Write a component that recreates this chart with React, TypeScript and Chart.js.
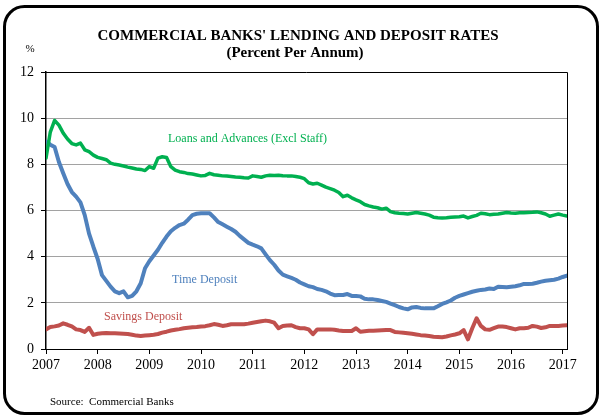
import React, { useEffect, useRef } from "react";
import { Chart, registerables } from "chart.js";

Chart.register(...registerables);

const START_YEAR = 2007;
const yearTicks = [2007, 2008, 2009, 2010, 2011, 2012, 2013, 2014, 2015, 2016, 2017];
const yTicks = [0, 2, 4, 6, 8, 10, 12];

// Monthly, Jan 2007 .. Feb 2017
const loansAdvances = [
  8.27, 9.4, 9.9, 9.7, 9.35, 9.1, 8.9, 8.84, 8.92, 8.63, 8.55, 8.4,
  8.3, 8.25, 8.2, 8.05, 8.0, 7.97, 7.93, 7.88, 7.84, 7.8, 7.78, 7.73,
  7.9, 7.83, 8.27, 8.33, 8.3, 7.9, 7.75, 7.68, 7.65, 7.6, 7.58, 7.54,
  7.5, 7.52, 7.61, 7.55, 7.53, 7.5, 7.49, 7.47, 7.45, 7.44, 7.42, 7.41,
  7.5, 7.47, 7.44, 7.5, 7.53, 7.52, 7.53, 7.51, 7.5, 7.5, 7.47, 7.44,
  7.38, 7.2, 7.15, 7.18, 7.1, 7.01, 6.95, 6.88, 6.78, 6.6, 6.66, 6.55,
  6.46, 6.38, 6.26, 6.2, 6.15, 6.12, 6.06, 6.1, 5.95, 5.9, 5.88, 5.87,
  5.85, 5.88, 5.91, 5.88, 5.85, 5.8, 5.71, 5.69, 5.68, 5.69, 5.71, 5.72,
  5.73, 5.76, 5.68, 5.74, 5.79, 5.88, 5.86, 5.82, 5.84, 5.85, 5.88, 5.91,
  5.89, 5.88, 5.9, 5.9, 5.91, 5.92, 5.94, 5.9, 5.85, 5.75, 5.8, 5.85,
  5.8, 5.76,
];

const timeDeposit = [
  8.99, 8.85, 8.75, 8.1, 7.61, 7.15, 6.8, 6.6, 6.35, 5.8, 5.0, 4.43,
  3.9, 3.2, 2.95, 2.7, 2.5, 2.42, 2.5, 2.24, 2.3, 2.5, 2.85, 3.5,
  3.8, 4.05, 4.3, 4.6, 4.87, 5.1, 5.25, 5.37, 5.43, 5.6, 5.8, 5.86,
  5.88, 5.88, 5.88, 5.7, 5.5, 5.4, 5.3, 5.2, 5.08, 4.9, 4.75, 4.6,
  4.52, 4.45, 4.36, 4.1, 3.85, 3.65, 3.4, 3.22, 3.15, 3.08, 3.0, 2.88,
  2.8, 2.72, 2.68, 2.6, 2.56, 2.5, 2.4, 2.33, 2.34, 2.34, 2.38, 2.3,
  2.3, 2.28, 2.18, 2.15, 2.15, 2.12, 2.08, 2.04, 1.97, 1.9, 1.82, 1.76,
  1.72, 1.8, 1.82, 1.78, 1.76, 1.76, 1.76, 1.85, 1.95, 2.02, 2.1, 2.22,
  2.3, 2.36, 2.42, 2.48, 2.52, 2.56, 2.58, 2.62, 2.6, 2.7, 2.69, 2.68,
  2.7, 2.72, 2.76, 2.82, 2.82, 2.83, 2.87, 2.92, 2.96, 2.98, 3.0, 3.05,
  3.12, 3.18,
];

const savingsDeposit = [
  0.85, 0.95, 0.98, 1.02, 1.11, 1.05, 0.98, 0.85, 0.82, 0.74, 0.92, 0.61,
  0.66, 0.68, 0.69, 0.68, 0.68, 0.67, 0.66, 0.65, 0.62, 0.58, 0.56, 0.58,
  0.6, 0.62, 0.65, 0.71, 0.75, 0.8, 0.83, 0.86, 0.9, 0.92, 0.94, 0.95,
  0.97, 0.99, 1.03, 1.08, 1.05, 1.0, 1.03, 1.07, 1.07, 1.07, 1.07, 1.1,
  1.14, 1.17, 1.2, 1.23, 1.2, 1.14, 0.9, 1.0, 1.02, 1.03, 0.95, 0.9,
  0.9, 0.85, 0.64, 0.85, 0.85, 0.85, 0.85, 0.83, 0.8, 0.78, 0.78, 0.78,
  0.9, 0.75, 0.77, 0.79, 0.79, 0.8, 0.81, 0.82, 0.82, 0.74, 0.72, 0.7,
  0.68, 0.66, 0.63, 0.6, 0.58, 0.56, 0.53, 0.52, 0.51, 0.54, 0.59, 0.63,
  0.68, 0.82, 0.42, 0.9, 1.33, 1.0, 0.85, 0.83, 0.9, 0.97, 0.97, 0.95,
  0.9, 0.85, 0.9, 0.9, 0.92, 1.0, 0.97, 0.91, 0.94, 1.0, 1.0, 1.0,
  1.02, 1.03,
];

const seriesNames = ["Loans and Advances (Excl Staff)", "Time Deposit", "Savings Deposit"];
const GREEN = "#00B050";
const BLUE = "#4F81BD";
const RED = "#C0504D";
const SERIF = "'Liberation Serif', 'Times New Roman', serif";

const toPoints = (arr: number[]) => arr.map((v, i) => ({ x: START_YEAR + i / 12, y: v }));

const decorPlugin = {
  id: "decor",
  beforeDatasetsDraw(chart: any) {
    const { ctx, chartArea } = chart;
    ctx.save();
    ctx.strokeStyle = "#000";
    ctx.lineWidth = 1;
    ctx.beginPath();
    ctx.moveTo(chartArea.left, Math.round(chartArea.top) + 0.5);
    ctx.lineTo(Math.round(chartArea.right) + 0.5, Math.round(chartArea.top) + 0.5);
    ctx.lineTo(Math.round(chartArea.right) + 0.5, chartArea.bottom);
    ctx.stroke();
    ctx.restore();
  },
  afterDraw(chart: any) {
    const { ctx } = chart;
    ctx.save();
    // outer rounded frame
    ctx.strokeStyle = "#000";
    ctx.lineWidth = 3;
    ctx.beginPath();
    ctx.roundRect(4.5, 6.5, 593, 407, 20);
    ctx.stroke();

    ctx.fillStyle = "#000";
    ctx.textAlign = "center";
    ctx.textBaseline = "middle";
    ctx.font = `bold 15px ${SERIF}`;
    ctx.fillText("COMMERCIAL BANKS' LENDING AND DEPOSIT RATES", 298, 36);
    ctx.fillText("(Percent Per Annum)", 295, 53);

    ctx.font = `11px ${SERIF}`;
    ctx.fillText("%", 30, 49);

    ctx.textAlign = "left";
    ctx.font = `11px ${SERIF}`;
    ctx.fillText("Source:  Commercial Banks", 50, 402);

    ctx.font = `12px ${SERIF}`;
    ctx.fillStyle = GREEN;
    ctx.fillText(seriesNames[0], 168, 139);
    ctx.fillStyle = BLUE;
    ctx.fillText(seriesNames[1], 172, 280);
    ctx.fillStyle = RED;
    ctx.fillText(seriesNames[2], 104, 317);
    ctx.restore();
  },
};

export default function App() {
  const ref = useRef<HTMLCanvasElement>(null);

  useEffect(() => {
    if (!ref.current) return;
    const chart = new Chart(ref.current, {
      type: "line",
      data: {
        datasets: [
          { label: seriesNames[0], data: toPoints(loansAdvances), borderColor: GREEN, borderWidth: 3.5 },
          { label: seriesNames[1], data: toPoints(timeDeposit), borderColor: BLUE, borderWidth: 4 },
          { label: seriesNames[2], data: toPoints(savingsDeposit), borderColor: RED, borderWidth: 4 },
        ],
      },
      options: {
        animation: false,
        responsive: false,
        maintainAspectRatio: false,
        devicePixelRatio: 1,
        layout: { padding: { left: 0, top: 72, right: 35, bottom: 39 } },
        elements: {
          point: { radius: 0, hoverRadius: 0 },
          line: { tension: 0, borderCapStyle: "round", borderJoinStyle: "round", fill: false },
        },
        plugins: {
          legend: { display: false },
          title: { display: false },
          tooltip: { enabled: false },
        },
        scales: {
          x: {
            type: "linear",
            min: START_YEAR,
            max: START_YEAR + (loansAdvances.length - 1) / 12,
            afterBuildTicks: (scale: any) => {
              scale.ticks = yearTicks.map((v) => ({ value: v }));
            },
            afterFit: (scale: any) => {
              scale.height = 30;
            },
            grid: { drawOnChartArea: false, drawTicks: true, tickLength: 5, tickColor: "#000", color: "#000" },
            border: { display: true, color: "#000", width: 1 },
            ticks: {
              autoSkip: false,
              maxRotation: 0,
              padding: 3,
              color: "#000",
              font: { family: SERIF, size: 14 },
              callback: (v: any) => String(v),
            },
          },
          y: {
            type: "linear",
            min: 0,
            max: 12,
            afterBuildTicks: (scale: any) => {
              scale.ticks = yTicks.map((v) => ({ value: v }));
            },
            afterFit: (scale: any) => {
              scale.width = 46;
            },
            grid: {
              drawTicks: true,
              tickLength: 5,
              tickColor: "#000",
              lineWidth: 1,
              color: (c: any) =>
                c.tick && (c.tick.value === 0 || c.tick.value === 12) ? "rgba(0,0,0,0)" : "#444",
            },
            border: { display: true, color: "#000", width: 1.5, dash: [1, 1] },
            ticks: {
              padding: 7,
              color: "#000",
              font: { family: SERIF, size: 14 },
              callback: (v: any) => String(v),
            },
          },
        },
      },
      plugins: [decorPlugin],
    });
    return () => chart.destroy();
  }, []);

  return (
    <div style={{ position: "absolute", left: 0, top: 0, width: 602, height: 418, background: "#fff" }}>
      <canvas ref={ref} width={602} height={418} style={{ width: 602, height: 418, display: "block" }} />
    </div>
  );
}
